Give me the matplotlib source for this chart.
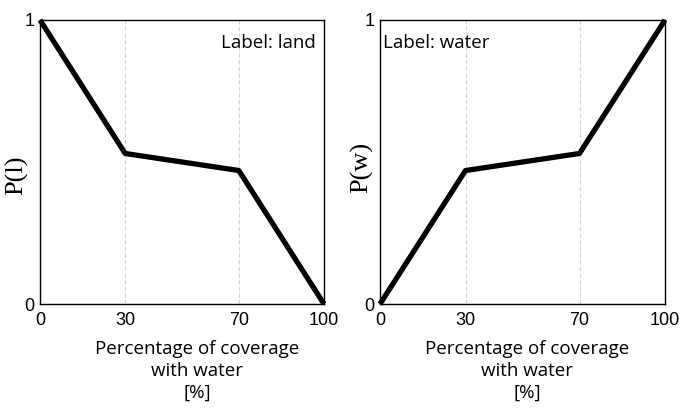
import matplotlib
matplotlib.use("Agg")
import matplotlib.pyplot as plt

coverage = [0, 30, 70, 100]
p_land = [1.0, 0.53, 0.47, 0.0]
p_water = [0.0, 0.47, 0.53, 1.0]
xticks = [0, 30, 70, 100]
yticks = [0, 1]

fig = plt.figure(figsize=(6.81, 4.11), dpi=100)
ax1 = fig.add_axes([40/681, 1-304/411, 284/681, 284/411])
ax2 = fig.add_axes([380/681, 1-304/411, 285/681, 284/411])

# (axes, values, ylabel, corner text, xlabel x pos, ylabel coords)
panels = [
    (ax1, p_land, "P(l)", 0.553, (-0.042, 0.454)),
    (ax2, p_water, "P(w)", 0.516, (-0.025, 0.482)),
]

for ax, vals, ylab, xl_pos, yl_pos in panels:
    for x in [30, 70]:
        ax.axvline(x, color="#d4d4d4", lw=0.8, ls=(0, (4, 2)), zorder=0)
    ax.plot(coverage, vals, color="black", lw=3.8, solid_capstyle="butt", clip_on=False, zorder=3)
    ax.set_xlim(0, 100)
    ax.set_ylim(0, 1)
    ax.set_xticks(xticks)
    ax.set_yticks(yticks)
    ax.tick_params(axis="x", length=0, labelsize=13, pad=6)
    ax.tick_params(axis="y", length=0, labelsize=13, pad=4)
    for lab in ax.get_xticklabels() + ax.get_yticklabels():
        lab.set_family("Liberation Sans")
    for s in ax.spines.values():
        s.set_linewidth(1.0)
    ax.set_ylabel(ylab, family="Liberation Serif", fontsize=19)
    ax.yaxis.set_label_coords(*yl_pos, transform=ax.transAxes)
    ax.set_xlabel("Percentage of coverage\nwith water\n[%]", family="Open Sans",
                  fontsize=13.5, linespacing=1.3)
    ax.xaxis.set_label_coords(xl_pos, -0.125, transform=ax.transAxes)
    ax.xaxis.label.set_va("top")

ax1.text(0.97, 0.92, "Label: land", transform=ax1.transAxes, ha="right", va="center",
         family="Open Sans", fontsize=13.5)
ax2.text(0.01, 0.92, "Label: water", transform=ax2.transAxes, ha="left", va="center",
         family="Open Sans", fontsize=13.5)

fig.savefig("out.png", dpi=100)
